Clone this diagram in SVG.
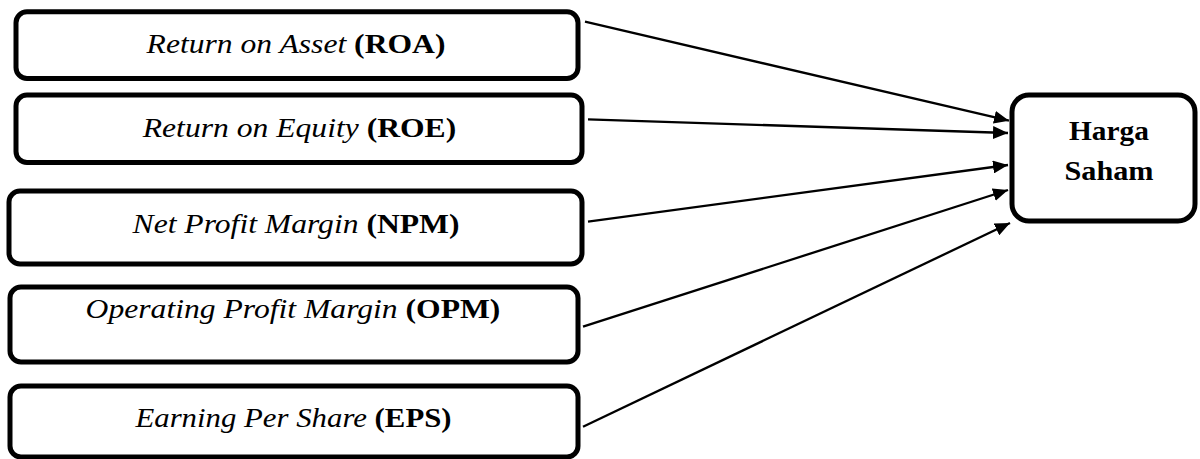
<svg xmlns="http://www.w3.org/2000/svg" width="1200" height="459" viewBox="0 0 1200 459">
  <style>
    .box { fill: #ffffff; stroke: #000000; stroke-width: 5; }
    .lbl { font-family: "Liberation Serif", "Times New Roman", serif; font-size: 27.5px; fill: #000000; text-anchor: middle; }
    .it { font-style: italic; }
    .bd { font-weight: bold; }
    .conn { stroke: #000000; stroke-width: 2.3; fill: none; }
  </style>
  <defs>
    <marker id="arrow" markerUnits="userSpaceOnUse" markerWidth="17" markerHeight="13" refX="15" refY="6.5" orient="auto">
      <path d="M0,0 L15,6.5 L0,13 Z" fill="#000000"/>
    </marker>
  </defs>
  <rect x="0" y="0" width="1200" height="459" fill="#ffffff"/>

  <g id="roa">
    <rect class="box" x="16" y="11.7" width="562" height="66.8" rx="11"/>
    <text class="lbl" transform="translate(296,53.3) scale(1.15,1)"><tspan class="it">Return on Asset</tspan> <tspan class="bd">(ROA)</tspan></text>
  </g>
  <g id="roe">
    <rect class="box" x="16" y="95" width="566" height="67.5" rx="11"/>
    <text class="lbl" transform="translate(299.5,137) scale(1.15,1)"><tspan class="it">Return on Equity</tspan> <tspan class="bd">(ROE)</tspan></text>
  </g>
  <g id="npm">
    <rect class="box" x="9" y="191" width="573" height="73" rx="11"/>
    <text class="lbl" transform="translate(296,233) scale(1.15,1)"><tspan class="it">Net Profit Margin</tspan> <tspan class="bd">(NPM)</tspan></text>
  </g>
  <g id="opm">
    <rect class="box" x="10" y="287" width="568" height="75" rx="11"/>
    <text class="lbl" transform="translate(293,318) scale(1.15,1)"><tspan class="it">Operating Profit Margin</tspan> <tspan class="bd">(OPM)</tspan></text>
  </g>
  <g id="eps">
    <rect class="box" x="10" y="386" width="568" height="71" rx="11"/>
    <text class="lbl" transform="translate(293.5,427) scale(1.12,1)"><tspan class="it">Earning Per Share</tspan> <tspan class="bd">(EPS)</tspan></text>
  </g>
  <g id="harga-saham">
    <rect class="box" x="1012" y="95" width="183" height="126" rx="17"/>
    <text class="lbl bd" transform="translate(1109,140) scale(1.07,1)">Harga</text>
    <text class="lbl bd" transform="translate(1109,180) scale(1.1,1)">Saham</text>
  </g>

  <g id="connectors">
    <line class="conn" x1="585" y1="21.7" x2="1009" y2="120.7" marker-end="url(#arrow)"/>
    <line class="conn" x1="588" y1="119.3" x2="1008" y2="133" marker-end="url(#arrow)"/>
    <line class="conn" x1="588" y1="221.7" x2="1008" y2="165" marker-end="url(#arrow)"/>
    <line class="conn" x1="583" y1="326.7" x2="1008" y2="190" marker-end="url(#arrow)"/>
    <line class="conn" x1="583" y1="426.7" x2="1010" y2="223" marker-end="url(#arrow)"/>
  </g>
</svg>
